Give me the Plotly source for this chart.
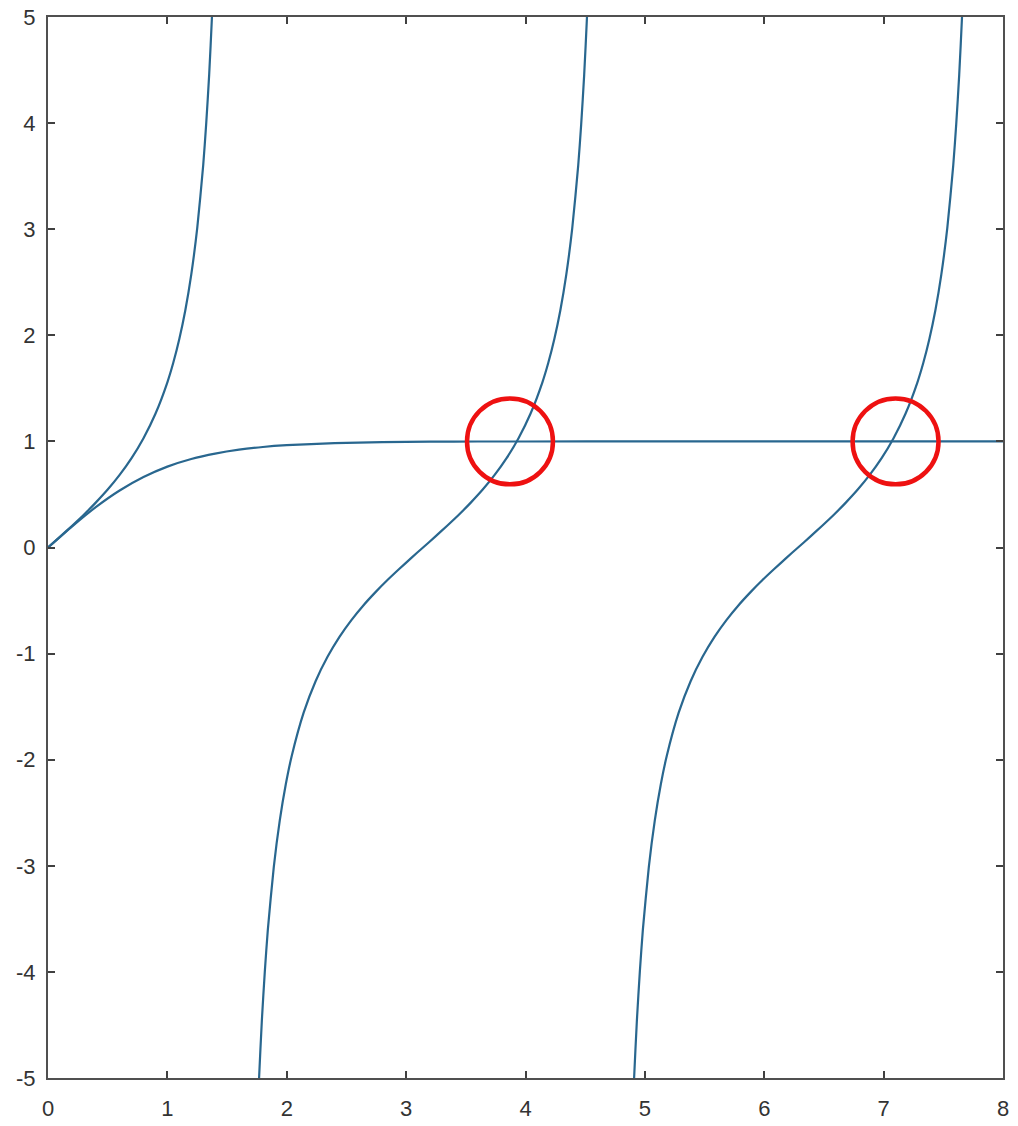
import plotly.graph_objects as go

# tan(x) branches
tan1_x = [0.0, 0.1, 0.2, 0.3, 0.4, 0.5, 0.6, 0.7, 0.8, 0.9, 1.0, 1.05, 1.1, 1.15, 1.2, 1.25, 1.3, 1.325, 1.35, 1.373, 1.40]
tan1_y = [0.0, 0.100, 0.203, 0.309, 0.423, 0.546, 0.684, 0.842, 1.030, 1.260, 1.557, 1.743, 1.965, 2.234, 2.572, 3.010, 3.602, 3.990, 4.455, 4.990, 5.798]

tan2_x = [1.7416, 1.7686, 1.7916, 1.8166, 1.8416, 1.8916, 1.9416, 1.9916, 2.0416, 2.1416, 2.2416, 2.3416, 2.4416, 2.5416, 2.6416, 2.7416, 2.8416, 2.9416, 3.0416, 3.1416,
          3.2416, 3.3416, 3.4416, 3.5416, 3.6416, 3.7416, 3.8416, 3.9416, 4.0416, 4.1416, 4.1916, 4.2416, 4.2916, 4.3416, 4.3916, 4.4416, 4.4666, 4.4916, 4.5146, 4.5416]
tan2_y = [-5.798, -4.990, -4.455, -3.990, -3.602, -3.010, -2.572, -2.234, -1.965, -1.557, -1.260, -1.030, -0.842, -0.684, -0.546, -0.423, -0.309, -0.203, -0.100, 0.0,
          0.100, 0.203, 0.309, 0.423, 0.546, 0.684, 0.842, 1.030, 1.260, 1.557, 1.743, 1.965, 2.234, 2.572, 3.010, 3.602, 3.990, 4.455, 4.990, 5.798]

tan3_x = [4.8832, 4.9102, 4.9332, 4.9582, 4.9832, 5.0332, 5.0832, 5.1332, 5.1832, 5.2832, 5.3832, 5.4832, 5.5832, 5.6832, 5.7832, 5.8832, 5.9832, 6.0832, 6.1832, 6.2832,
          6.3832, 6.4832, 6.5832, 6.6832, 6.7832, 6.8832, 6.9832, 7.0832, 7.1832, 7.2832, 7.3332, 7.3832, 7.4332, 7.4832, 7.5332, 7.5832, 7.6082, 7.6332, 7.6562, 7.6832]
tan3_y = tan2_y

# tanh(x)
tanh_x = [0.0, 0.2, 0.4, 0.6, 0.8, 1.0, 1.2, 1.4, 1.6, 1.8, 2.0, 2.4, 2.8, 3.2, 3.6, 4.0, 5.0, 6.0, 7.0, 8.0]
tanh_y = [0.0, 0.197, 0.380, 0.537, 0.664, 0.762, 0.834, 0.885, 0.922, 0.947, 0.964, 0.984, 0.993, 0.997, 0.999, 0.999, 1.0, 1.0, 1.0, 1.0]

# highlighted intersections
circle_x = [3.87, 7.10]
circle_y = [1.0, 1.0]

x_ticks = [0, 1, 2, 3, 4, 5, 6, 7, 8]
y_ticks = [-5, -4, -3, -2, -1, 0, 1, 2, 3, 4, 5]

line_color = "#29678f"

fig = go.Figure()
for xs, ys in [(tan1_x, tan1_y), (tan2_x, tan2_y), (tan3_x, tan3_y), (tanh_x, tanh_y)]:
    fig.add_trace(go.Scatter(x=xs, y=ys, mode="lines",
                             line=dict(color=line_color, width=2.2, shape="spline", smoothing=0.6),
                             showlegend=False, hoverinfo="skip", cliponaxis=True))

rx, ry = 0.36, 0.405
for cx, cy in zip(circle_x, circle_y):
    fig.add_shape(type="circle", xref="x", yref="y",
                  x0=cx - rx, x1=cx + rx, y0=cy - ry, y1=cy + ry,
                  line=dict(color="#ee1111", width=4.5), fillcolor="rgba(0,0,0,0)")

axis_common = dict(showline=True, linecolor="#505050", linewidth=2, mirror="ticks",
                   ticks="inside", ticklen=7, tickwidth=1.5, tickcolor="#404040",
                   showgrid=False, zeroline=False, automargin=False,
                   tickfont=dict(family="Liberation Sans, Arial, sans-serif", size=22, color="#333333"))

fig.update_xaxes(range=[0, 8], tickvals=x_ticks, ticktext=[str(v) for v in x_ticks],
                 ticklabelstandoff=10, **axis_common)
fig.update_yaxes(range=[-5, 5], tickvals=y_ticks, ticktext=[str(v) for v in y_ticks],
                 ticklabelstandoff=6, **axis_common)

fig.update_layout(width=1018, height=1126,
                  margin=dict(l=48, r=15, t=17, b=48),
                  plot_bgcolor="white", paper_bgcolor="white")

fig.write_html("out.html", config={"displayModeBar": False},
               post_script="document.body.style.margin='0';")
